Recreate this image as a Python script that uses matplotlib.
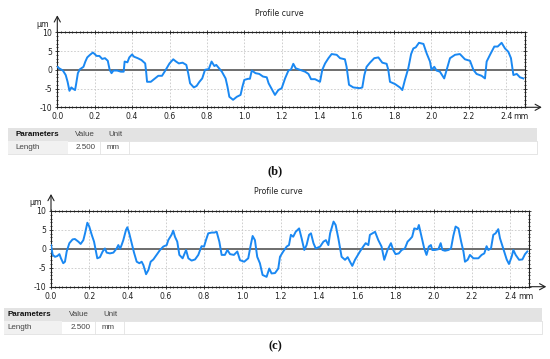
import matplotlib
matplotlib.use("Agg")
import matplotlib.pyplot as plt
from matplotlib.patches import Rectangle, FancyArrowPatch
from matplotlib.ticker import MultipleLocator

plt.rcParams["axes.unicode_minus"] = False

# profil (b)
krivka_b_x = [0.0, 0.01, 0.03, 0.045, 0.055, 0.065, 0.075, 0.085, 0.095, 0.1, 0.11, 0.12, 0.14, 0.15,
              0.16, 0.175, 0.19, 0.2, 0.21, 0.225, 0.24, 0.255, 0.27, 0.28, 0.29, 0.3, 0.32, 0.34,
              0.355, 0.36, 0.375, 0.385, 0.4, 0.41, 0.43, 0.45, 0.47, 0.475, 0.48, 0.5, 0.52, 0.54,
              0.56, 0.58, 0.6, 0.62, 0.635, 0.65, 0.67, 0.69, 0.7, 0.71, 0.73, 0.745, 0.76, 0.775,
              0.79, 0.81, 0.825, 0.84, 0.85, 0.865, 0.88, 0.9, 0.91, 0.92, 0.94, 0.96, 0.98, 0.99,
              1.0, 1.02, 1.03, 1.04, 1.06, 1.08, 1.1, 1.12, 1.13, 1.15, 1.164, 1.182, 1.2, 1.218,
              1.236, 1.25, 1.262, 1.275, 1.298, 1.325, 1.343, 1.357, 1.378, 1.405, 1.417, 1.432,
              1.45, 1.467, 1.494, 1.512, 1.538, 1.547, 1.56, 1.583, 1.618, 1.631, 1.642, 1.654,
              1.672, 1.695, 1.717, 1.738, 1.761, 1.77, 1.779, 1.806, 1.832, 1.845, 1.859, 1.877,
              1.892, 1.904, 1.917, 1.934, 1.958, 1.975, 1.993, 2.001, 2.016, 2.028, 2.046, 2.069,
              2.082, 2.1, 2.127, 2.153, 2.18, 2.207, 2.225, 2.242, 2.269, 2.287, 2.296, 2.314,
              2.337, 2.355, 2.376, 2.394, 2.412, 2.426, 2.439, 2.457, 2.474, 2.492]
krivka_b_y = [0.8, 0.4, -0.2, -1.4, -3.2, -5.6, -4.7, -5.1, -5.4, -4.0, -0.9, 0.1, 0.8, 2.2,
              3.3, 4.0, 4.6, 4.2, 3.7, 3.7, 2.9, 3.1, 2.4, 0.0, -0.9, -0.2, -0.2, -0.5,
              -0.5, 2.2, 2.0, 3.3, 4.1, 3.5, 3.1, 2.6, 1.7, -0.5, -3.2, -3.2, -2.4, -1.6,
              -1.6, 0.0, 1.7, 2.8, 2.2, 1.7, 1.9, 1.3, -0.9, -3.6, -4.7, -4.3, -3.2, -2.3,
              0.0, 0.2, 2.2, 1.0, 1.3, 0.4, -0.5, -2.3, -4.5, -7.2, -8.0, -7.2, -6.7, -4.5,
              -2.7, -2.4, -2.4, -0.2, -0.9, -1.1, -1.8, -2.0, -3.6, -5.4, -6.7, -5.4, -4.9, -2.3,
              -0.2, 0.1, 1.6, 0.4, 0.0, -0.5, -1.1, -2.5, -2.5, -3.2, 0.0, 1.7,
              3.1, 4.2, 4.0, 3.1, 2.8, 0.8, -4.0, -4.7, -4.9, -4.7, -1.4, 0.8,
              1.9, 3.1, 3.3, 1.9, 1.6, 0.0, -3.2, -3.8, -4.7, -5.4, -2.7, 0.4,
              4.2, 5.7, 6.0, 7.2, 6.9, 4.4, 2.2, 0.0, 0.8, -0.2, -0.5, -2.3,
              0.0, 3.1, 4.0, 4.2, 2.8, 2.4, 0.0, -1.1, -1.6, -2.3, 2.2, 4.0,
              6.2, 6.2, 7.2, 5.7, 4.8, 3.1, -1.4, -1.1, -2.0, -2.3]

# profil (c)
krivka_c_x = [0.0, 0.009, 0.021, 0.033, 0.044, 0.052, 0.064, 0.073, 0.082, 0.096, 0.113, 0.125, 0.143,
              0.155, 0.169, 0.178, 0.19, 0.2, 0.213, 0.225, 0.235, 0.242, 0.256, 0.27, 0.282, 0.291,
              0.308, 0.326, 0.343, 0.352, 0.361, 0.369, 0.378, 0.392, 0.399, 0.409, 0.422, 0.434,
              0.448, 0.462, 0.474, 0.483, 0.497, 0.509, 0.521, 0.535, 0.552, 0.57, 0.587, 0.605,
              0.613, 0.631, 0.639, 0.648, 0.66, 0.671, 0.688, 0.706, 0.718, 0.735, 0.753, 0.77,
              0.787, 0.8, 0.81, 0.822, 0.84, 0.854, 0.866, 0.88, 0.892, 0.909, 0.922, 0.936, 0.956,
              0.974, 0.988, 1.01, 1.031, 1.044, 1.054, 1.066, 1.078, 1.092, 1.106, 1.127, 1.141,
              1.153, 1.171, 1.188, 1.197, 1.214, 1.232, 1.244, 1.254, 1.266, 1.279, 1.297, 1.31,
              1.324, 1.336, 1.349, 1.359, 1.372, 1.384, 1.407, 1.424, 1.437, 1.45, 1.459, 1.477,
              1.488, 1.502, 1.519, 1.537, 1.551, 1.563, 1.575, 1.589, 1.615, 1.632, 1.645, 1.659,
              1.667, 1.68, 1.694, 1.711, 1.728, 1.742, 1.759, 1.777, 1.789, 1.801, 1.818, 1.833,
              1.85, 1.864, 1.876, 1.888, 1.899, 1.916, 1.923, 1.937, 1.951, 1.963, 1.975, 1.986,
              1.993, 2.007, 2.025, 2.037, 2.046, 2.06, 2.077, 2.091, 2.103, 2.115, 2.13, 2.144,
              2.156, 2.164, 2.178, 2.19, 2.208, 2.234, 2.251, 2.265, 2.277, 2.286, 2.3, 2.312,
              2.324, 2.338, 2.347, 2.364, 2.382, 2.394, 2.408, 2.417, 2.429, 2.447, 2.464, 2.478, 2.49]
krivka_c_y = [1.0, -1.6, -2.1, -1.9, -1.4, -2.5, -3.8, -3.4, -0.7, 1.5, 2.5, 2.6, 1.9,
              1.3, 2.3, 4.1, 6.9, 5.9, 3.7, 1.9, -0.7, -2.5, -2.2, -0.7, 0.1, -1.0,
              -1.2, -1.0, 0.1, 1.0, 0.0, 1.0, 2.3, 5.0, 5.7, 4.1, 1.5, -1.0,
              -3.4, -3.8, -3.4, -4.3, -6.7, -5.6, -3.4, -2.8, -1.6, -0.3, 0.6, 1.0,
              2.3, 3.8, 4.8, 3.2, 1.9, -1.6, -2.5, -0.3, -2.5, -3.1, -2.8, -1.6,
              0.7, 0.6, 2.3, 4.1, 4.3, 4.3, 4.5, 1.9, -1.6, -1.6, -0.3, -1.4, -1.6,
              -0.7, -3.0, -3.4, -2.5, 1.0, 3.4, 2.3, -2.1, -3.8, -6.9, -7.4, -5.2,
              -6.5, -6.4, -5.2, -2.1, -0.7, 0.6, 1.0, 3.7, 3.2, 4.5, 5.4, 2.8,
              -0.3, 1.0, 3.7, 4.1, 1.5, 0.1, 0.6, 1.9, 2.3, 1.0, 4.1, 7.2,
              6.3, 2.8, -2.1, -2.9, -2.2, -3.4, -4.5, -2.9, -0.7, 0.6, 1.5, 1.0,
              3.7, 4.1, 4.5, 2.3, 0.6, -2.9, -0.3, 1.5, -0.3, -1.4, -1.2, -0.3,
              0.1, 1.9, 2.5, 3.2, 5.4, 5.2, 6.3, 3.2, 0.1, -1.6, 0.6, 1.0,
              -0.3, -0.3, -0.1, 1.5, -0.3, -0.5, -0.3, 0.1, 3.4, 5.9, 5.4, 1.9,
              -0.7, -3.4, -2.9, -1.6, -2.5, -2.5, -1.6, -1.2, 0.7, -0.3, 0.1, 3.7,
              4.1, 5.2, 2.8, 0.1, -2.8, -4.0, -2.1, -0.3, -1.6, -2.9, -2.8, -1.4, -0.7]

x_ticky = [0.0, 0.2, 0.4, 0.6, 0.8, 1.0, 1.2, 1.4, 1.6, 1.8, 2.0, 2.2, 2.4]
y_ticky = [-10, -5, 0, 5, 10]
hlavicka = ["Parameters", "Value", "Unit"]
radek = ["Length", "2.500", "mm"]
popisky = ["(b)", "(c)"]

W, H = 550, 359
modra = "#1a88f2"
tmava = "#222222"
fig = plt.figure(figsize=(W / 100, H / 100), dpi=100)
fig.patch.set_facecolor("white")


def fx(px):
    return px / W


def fy(py):
    return 1 - py / H


def sipka(x0, y0, x1, y1):
    fig.patches.append(FancyArrowPatch((fx(x0), fy(y0)), (fx(x1), fy(y1)), transform=fig.transFigure,
                                       arrowstyle="->,head_length=4,head_width=2.2", color=tmava,
                                       lw=0.8, shrinkA=0, shrinkB=0))


def panel(x, y, levo, horni, sirka_mm, vyska, tab, sloupce, popisek_y, popisek):
    ax = fig.add_axes([fx(levo), fy(horni + vyska), fx(2.5 * sirka_mm), vyska / H])
    ax.set_xlim(0, 2.5)
    ax.set_ylim(-10, 10)
    ax.grid(True, which="major", color="#c8c8c8", linestyle=(0, (2, 2)), linewidth=0.6)
    ax.axhline(0, color="#6e6e6e", linewidth=1.4, zorder=2)
    ax.plot(x, y, color=modra, linewidth=1.4, zorder=3)
    ax.set_xticks(x_ticky)
    ax.set_xticklabels([f"{t:.1f}" for t in x_ticky])
    ax.set_yticks(y_ticky)
    ax.xaxis.set_minor_locator(MultipleLocator(0.02))
    ax.yaxis.set_minor_locator(MultipleLocator(1))
    ax.tick_params(which="both", labelsize=5.6, colors=tmava, width=0.6, pad=2)
    ax.tick_params(which="major", length=3, direction="inout", top=True, right=True)
    ax.tick_params(which="minor", length=2, direction="inout", top=True, right=True)
    for s in ax.spines.values():
        s.set_linewidth(0.8)
        s.set_color(tmava)
    ax.text(2.44, -11.3, "mm", fontsize=5.6, color=tmava, ha="left", va="top")
    ax.text(-0.045, 11.0, "µm", fontsize=5.6, color=tmava, ha="right", va="bottom")
    # sipky os
    sipka(levo, horni, levo, horni - 17)
    sipka(levo + 2.5 * sirka_mm, horni + vyska, levo + 2.5 * sirka_mm + 17, horni + vyska)
    fig.text(fx(levo + 1.25 * sirka_mm - 12), fy(horni - 19), "Profile curve",
             fontsize=5.6, color=tmava, ha="center", va="center")

    # tabulka parametru
    tl, tr, t0, t1, t2 = tab
    s_len, s_val, s_unit, s_sep1, s_sep2, s_sep3 = sloupce
    fig.patches.append(Rectangle((fx(tl), fy(t1)), fx(tr - tl), (t1 - t0) / H,
                                 transform=fig.transFigure, facecolor="#e3e3e3", edgecolor="none"))
    fig.patches.append(Rectangle((fx(tl), fy(t2)), fx(tr - tl), (t2 - t1) / H,
                                 transform=fig.transFigure, facecolor="white", edgecolor="#e0e0e0", lw=0.6))
    fig.patches.append(Rectangle((fx(tl), fy(t2)), fx(s_sep1 - tl), (t2 - t1) / H,
                                 transform=fig.transFigure, facecolor="#f1f1f1", edgecolor="none"))
    for sx in (s_sep2, s_sep3):
        fig.lines.append(plt.Line2D([fx(sx), fx(sx)], [fy(t1), fy(t2)], transform=fig.transFigure,
                                    color="#e3e3e3", lw=0.6))
    ym0 = fy((t0 + t1) / 2)
    ym1 = fy((t1 + t2) / 2)
    pismo = dict(fontsize=5.8, family="Liberation Sans", va="center")
    fig.text(fx(s_len), ym0, hlavicka[0], fontweight="bold", color="#111111", **pismo)
    fig.text(fx(s_val), ym0, hlavicka[1], color="#444444", **pismo)
    fig.text(fx(s_unit), ym0, hlavicka[2], color="#444444", **pismo)
    fig.text(fx(s_len), ym1, radek[0], color="#444444", **pismo)
    fig.text(fx(s_sep2 - 4), ym1, radek[1], ha="right", color="#444444", **pismo)
    fig.text(fx(s_unit - 1), ym1, radek[2], color="#444444", **pismo)
    fig.text(fx(275), fy(popisek_y), popisek, fontsize=9, fontweight="bold",
             family="Liberation Serif", ha="center", va="center", color="#111111")


panel(krivka_b_x, krivka_b_y, 57.3, 32.3, 187.0, 75.0, (8, 537, 128, 141, 153.5),
      (15, 75, 108, 68, 100, 129), 171.5, popisky[0])
panel(krivka_c_x, krivka_c_y, 51.0, 211.0, 191.3, 75.7, (4, 542, 307.7, 320.5, 334),
      (7, 69, 103, 62, 95, 124), 346.5, popisky[1])

fig.savefig("out.png", dpi=100)
